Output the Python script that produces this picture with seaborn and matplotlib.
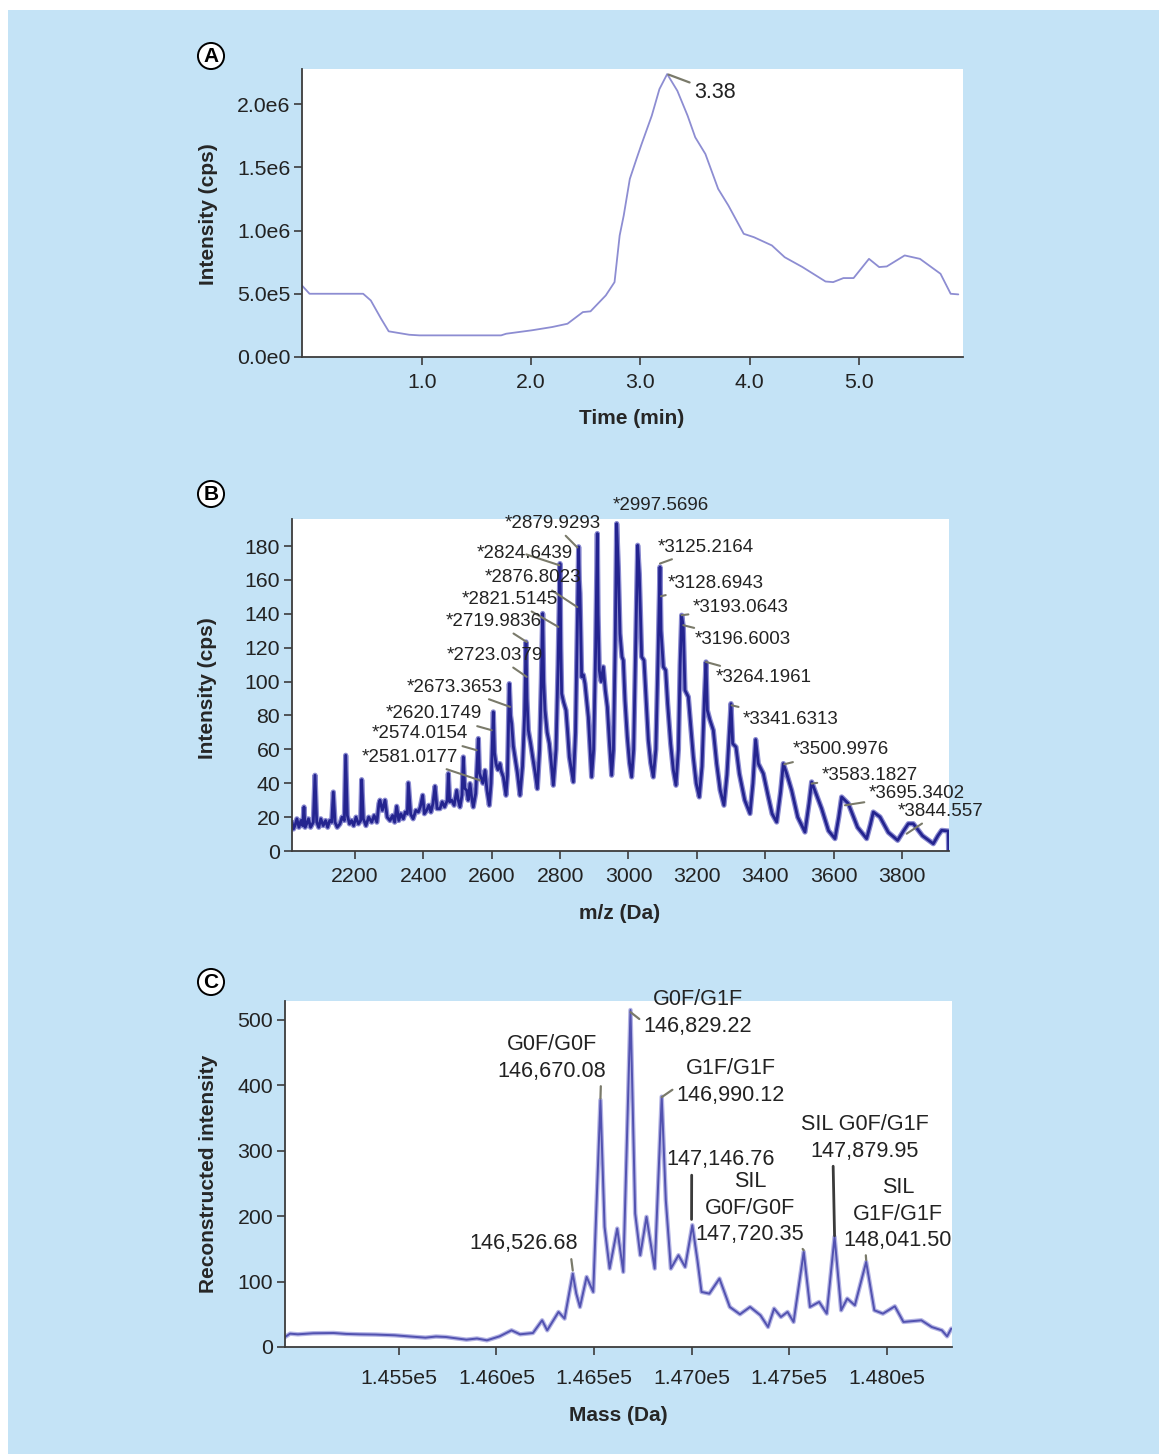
import matplotlib
matplotlib.use("Agg")
import matplotlib.pyplot as plt
import numpy as np
import pandas as pd
import seaborn as sns
from matplotlib.patches import Rectangle

# ---------------- Panel A: chromatogram ----------------
a_time = [-0.099, -0.029, 0.462, 0.532, 0.626, 0.696, 0.883, 0.977, 1.725, 1.772,
          2.006, 2.193, 2.333, 2.474, 2.544, 2.684, 2.764, 2.811, 2.848, 2.904,
          2.965, 3.012, 3.105, 3.175, 3.246, 3.339, 3.433, 3.503, 3.596, 3.713,
          3.807, 3.947, 4.041, 4.205, 4.322, 4.485, 4.696, 4.766, 4.860, 4.953,
          5.094, 5.187, 5.257, 5.421, 5.561, 5.749, 5.842, 5.912]
a_intensity = [0.566, 0.50, 0.50, 0.447, 0.303, 0.203, 0.176, 0.171, 0.171, 0.184,
               0.211, 0.237, 0.263, 0.355, 0.361, 0.487, 0.592, 0.961, 1.118, 1.408,
               1.566, 1.684, 1.908, 2.118, 2.237, 2.105, 1.908, 1.737, 1.605, 1.329,
               1.197, 0.974, 0.947, 0.882, 0.789, 0.711, 0.597, 0.592, 0.624, 0.624,
               0.776, 0.711, 0.716, 0.803, 0.776, 0.658, 0.500, 0.495]
a_intensity = [v * 1e6 for v in a_intensity]
a_xticks = [1.0, 2.0, 3.0, 4.0, 5.0]
a_xticklabels = ["1.0", "2.0", "3.0", "4.0", "5.0"]
a_yticks = [0, 5e5, 1e6, 1.5e6, 2e6]
a_yticklabels = ["0.0e0", "5.0e5", "1.0e6", "1.5e6", "2.0e6"]
a_peak_label = "3.38"
a_peak_time = 3.246
a_peak_int = 2.237e6

# ---------------- Panel B: m/z spectrum ----------------
b_mz = [2016, 2020, 2024.5, 2030, 2036, 2042, 2047, 2050.8, 2054, 2058.6, 2064, 2070,
        2078, 2083, 2088, 2094, 2100, 2107, 2114, 2120, 2126, 2131.8, 2136.6, 2141.5,
        2148, 2156, 2162, 2168.8, 2172.7, 2177.6, 2184, 2190, 2196, 2203, 2210, 2216.6,
        2219.5, 2224.4, 2232, 2240, 2248.8, 2256, 2264, 2270, 2273, 2280, 2287.8, 2294,
        2302.4, 2310, 2316, 2321.9, 2328, 2334, 2341.4, 2347, 2353.1, 2356, 2362.8, 2370,
        2378, 2385.3, 2391, 2397.9, 2403, 2409.6, 2416, 2422, 2428, 2434, 2440, 2448.6,
        2455, 2462, 2470, 2473, 2477, 2482.7, 2490, 2497.4, 2502, 2507, 2513, 2516.9,
        2521, 2526.6, 2531, 2536.4, 2541, 2546, 2553, 2560.8, 2564, 2567.6, 2574, 2580.3,
        2586, 2592.9, 2598, 2604.6, 2608, 2612.4, 2618, 2624.1, 2628, 2633.9, 2641.7, 2646,
        2651.4, 2655, 2658.3, 2663, 2668, 2675, 2682.6, 2690, 2696, 2700.2, 2703, 2707,
        2713.8, 2720, 2726.5, 2733.3, 2740, 2745, 2748.9, 2752, 2755.7, 2762, 2768.4, 2774,
        2780.1, 2788, 2794, 2799.6, 2802, 2804.5, 2810, 2817.2, 2822, 2826.9, 2838.6, 2845,
        2850, 2854.2, 2856, 2858.1, 2863, 2868, 2872.7, 2882.5, 2892.2, 2898, 2904, 2908.8,
        2911, 2914.6, 2920, 2926.3, 2932, 2938.1, 2944, 2950.7, 2956, 2961, 2965.4, 2970.2,
        2975.1, 2980.9, 2984.8, 2989.7, 2996.5, 3003, 3009.2, 3015, 3021, 3026.8, 3031.6,
        3038.5, 3045.3, 3051.1, 3058, 3065, 3072.6, 3080, 3087, 3092.1, 3095, 3101.9,
        3108.7, 3114.5, 3123.3, 3131, 3138.9, 3146, 3151, 3155.5, 3160.3, 3165.2, 3175,
        3179.9, 3189.6, 3198, 3207.1, 3215, 3222, 3226.7, 3230.6, 3238.4, 3248.1, 3257.9,
        3268, 3279.3, 3288, 3295, 3299.8, 3304.7, 3314.4, 3324.2, 3340, 3355.4, 3364,
        3371.9, 3379.7, 3394.4, 3409, 3420, 3433.4, 3445, 3452.9, 3462.6, 3477.2, 3495,
        3516.2, 3528, 3535.7, 3550.4, 3565, 3585, 3604, 3615, 3623.5, 3643, 3670, 3696.6,
        3708, 3716.1, 3735.6, 3760, 3787.3, 3805, 3818.5, 3833.1, 3860, 3891.6, 3905, 3916,
        3935.5, 3936.5]
b_int = [17, 13, 15, 19, 14, 18, 15, 26, 14, 16, 19, 14,
         17, 44.7, 17, 14, 19, 15, 18, 14, 18, 17, 34.8, 17,
         14, 16, 20, 18, 56.5, 21, 16, 18, 15, 20, 16, 18,
         42.1, 19, 15, 20, 17, 21, 17, 28, 30, 24, 30, 20,
         18, 21, 17, 26.4, 18, 22, 19, 23, 22, 40.2, 21.7, 19,
         24, 23, 26, 32.9, 22, 24, 27, 23, 28, 38.2, 25, 25,
         29, 26, 30, 45.7, 29, 30, 27, 35.8, 30, 26, 33, 55.5,
         37, 35.8, 30, 39.8, 32, 26, 34, 66.4, 46, 43.7, 40, 47.6,
         36, 27, 40, 82.1, 58, 51.6, 48, 51.6, 47, 43.7, 32.9, 45,
         98.8, 80, 75.2, 62, 55.5, 46, 32.9, 50, 80, 123.4, 90, 71.3,
         63.4, 55, 46.7, 36.8, 60, 100, 140.2, 100, 83.1, 70, 63.4, 52,
         38.8, 60, 110, 169.7, 120, 92.9, 88, 83.1, 70, 55.5, 40.8, 70,
         130, 179.6, 160, 152, 102.8, 104, 98.8, 79.1, 43.7, 60, 120, 187.4,
         140, 106.7, 100, 108.7, 95, 85.1, 65, 44.7, 60, 120, 193.3, 167.7,
         128.4, 114.6, 112.6, 89, 67.3, 52, 43.7, 60, 120, 180.5, 163.8,
         114.6, 112.6, 91, 65.4, 52, 43.7, 60, 120, 167.7, 130.3, 108.7,
         106.7, 87, 63.4, 48, 38.8, 60, 110, 139.2, 132.3, 94.9, 91,
         79.1, 55.5, 40, 31.9, 50, 90, 111.6, 83.1, 77.2, 71.3, 51.6,
         36, 27, 45, 70, 87, 63.4, 61.4, 45.7, 30, 22.1, 40,
         65.8, 51.6, 45.7, 31.9, 22, 17.1, 35, 51.6, 45.7, 35.8, 20,
         11.2, 28, 40.8, 32.9, 25, 12, 7.3, 20, 31.9, 28, 14, 7.3,
         16, 23, 20.1, 11, 6.3, 12, 16.1, 16.1, 9, 4.3, 9, 12.2,
         11.8, 0]
b_xticks = [2200, 2400, 2600, 2800, 3000, 3200, 3400, 3600, 3800]
b_yticks = [0, 20, 40, 60, 80, 100, 120, 140, 160, 180]
b_labels = ["*2997.5696", "*2879.9293", "*2824.6439", "*2876.8023", "*2821.5145",
            "*2719.9836", "*2723.0379", "*2673.3653", "*2620.1749", "*2574.0154",
            "*2581.0177", "*3125.2164", "*3128.6943", "*3193.0643", "*3196.6003",
            "*3264.1961", "*3341.6313", "*3500.9976", "*3583.1827", "*3695.3402",
            "*3844.557"]
b_label_mz = [2965.4, 2850.3, 2797.7, 2850.3, 2794.8, 2702.2, 2702.2, 2653.4, 2599.8,
              2555.9, 2565.6, 3092.1, 3095.0, 3155.5, 3160.3, 3226.7, 3301.7, 3455.8,
              3535.7, 3633.2, 3813.6]
b_label_int = [193.3, 179.2, 168.7, 144.0, 132.3, 123.4, 102.8, 85.1, 71.3, 59.5, 41.7,
               169.7, 150.4, 139.2, 133.3, 111.6, 86.0, 51.2, 39.8, 27.0, 10.2]

# ---------------- Panel C: deconvoluted mass ----------------
c_mass = [144916, 144942, 144982, 145060, 145165, 145230, 145296, 145380, 145479, 145560,
          145636, 145690, 145741, 145800, 145846, 145900, 145951, 146016, 146077, 146121,
          146187, 146234, 146260, 146318, 146349, 146391, 146409, 146428, 146462, 146496,
          146533, 146554, 146580, 146619, 146650, 146687, 146711, 146737, 146769, 146811,
          146847, 146868, 146894, 146933, 146967, 147004, 147030, 147051, 147091, 147143,
          147196, 147248, 147300, 147353, 147392, 147423, 147458, 147492, 147523, 147575,
          147607, 147654, 147693, 147733, 147767, 147798, 147837, 147895, 147937, 147981,
          148042, 148086, 148178, 148231, 148283, 148310, 148331]
c_int = [15.3, 20.4, 19.4, 21, 21.4, 20, 19.4, 19, 17.9, 16,
         14.3, 16, 15.3, 13, 11.2, 13, 10.2, 16.3, 25.5, 19.4,
         21.4, 40.8, 25.5, 53.6, 43.4, 112.2, 81.6, 61.2, 107.1, 84.2,
         377.6, 183.7, 119.9, 181.1, 114.8, 515.3, 204.1, 140.3, 199, 119.9,
         382.7, 224.5, 119.9, 140.3, 122.4, 186.2, 132.7, 84.2, 81.6, 104.6,
         61.2, 50, 61.2, 48.5, 30.6, 58.7, 45.9, 53.6, 38.3, 145.4,
         61.2, 68.9, 51, 168.4, 56.1, 74, 63.8, 130.1, 56.1, 51,
         62.2, 38.3, 40.8, 30.6, 25.5, 16.3, 28.1]
c_xticks = [145500, 146000, 146500, 147000, 147500, 148000]
c_xticklabels = ["1.455e5", "1.460e5", "1.465e5", "1.470e5", "1.475e5", "1.480e5"]
c_yticks = [0, 100, 200, 300, 400, 500]
c_labels = ["G0F/G1F\n146,829.22", "G0F/G0F\n146,670.08", "G1F/G1F\n146,990.12",
            "147,146.76", "SIL\nG0F/G0F\n147,720.35", "SIL G0F/G1F\n147,879.95",
            "SIL\nG1F/G1F\n148,041.50", "146,526.68"]
c_label_mass = [146687, 146533, 146847, 147000, 147575, 147733, 147895, 146391]
c_label_int = [512, 380, 382, 195, 148, 170, 133, 117]

# ---------------- figure ----------------
sns.set_theme(style="ticks")
plt.rcParams["font.family"] = ["Liberation Sans", "DejaVu Sans"]

W, H = 1159, 1454
fig = plt.figure(figsize=(W / 100, H / 100), dpi=100, facecolor="white")
bg = Rectangle((8 / W, 0), 1, 1 - 10 / H, transform=fig.transFigure,
               facecolor="#C4E3F6", edgecolor="none", zorder=-10)
fig.patches.append(bg)

def px_axes(l, t, r, b):
    ax = fig.add_axes([l / W, 1 - b / H, (r - l) / W, (b - t) / H])
    ax.set_zorder(2)
    return ax

axA = px_axes(302, 69, 963, 357)
axB = px_axes(292, 519, 949, 851)
axC = px_axes(285, 1001, 952, 1347)

spine_col = "#3c3c3c"
tick_fs = 15.3
lab_fs = 15

def style(ax, xpad=5):
    ax.set_facecolor("white")
    for s in ["top", "right"]:
        ax.spines[s].set_visible(False)
    for s in ["left", "bottom"]:
        ax.spines[s].set_color(spine_col)
        ax.spines[s].set_linewidth(1.3)
    ax.tick_params(axis="both", direction="out", length=6, width=1.2, color=spine_col,
                   labelsize=tick_fs, labelcolor="#222222")
    ax.tick_params(axis="x", pad=xpad)
    ax.tick_params(axis="y", pad=2.5)

def fpx(x, y):
    return (x, H - y)

# Panel A
dfA = pd.DataFrame({"time": a_time, "intensity": a_intensity})
sns.lineplot(data=dfA, x="time", y="intensity", ax=axA, sort=False, estimator=None,
             color="#8d8dd2", linewidth=1.3)
axA.set_xlim(-0.098, 5.955)
axA.set_ylim(0, 2.277e6)
axA.set_xticks(a_xticks, a_xticklabels)
axA.set_yticks(a_yticks, a_yticklabels)
style(axA, 5.5)
axA.set_xlabel("Time (min)", fontsize=lab_fs, fontweight="bold", va="center")
axA.set_ylabel("Intensity (cps)", fontsize=lab_fs, fontweight="bold", va="center")
axA.xaxis.set_label_coords(0.499, -0.212)
axA.yaxis.set_label_coords(-0.142, 0.497)
axA.annotate(a_peak_label, xy=(a_peak_time, a_peak_int), xycoords="data",
             xytext=fpx(715, 92), textcoords="figure pixels", ha="center", va="center",
             fontsize=15.5, color="#222222", annotation_clip=False,
             arrowprops=dict(arrowstyle="-", color="#7a7a6a", lw=1.6, shrinkA=1, shrinkB=1))

# Panel B
dfB = pd.DataFrame({"mz": b_mz, "intensity": b_int})
sns.lineplot(data=dfB, x="mz", y="intensity", ax=axB, sort=False, estimator=None,
             color="#8a8ad0", linewidth=3.8)
sns.lineplot(data=dfB, x="mz", y="intensity", ax=axB, sort=False, estimator=None,
             color="#24248f", linewidth=2.0)
axB.set_xlim(2015.7, 3937.5)
axB.set_ylim(0, 196)
axB.set_xticks(b_xticks, [str(v) for v in b_xticks])
axB.set_yticks(b_yticks, [str(v) for v in b_yticks])
style(axB, 5.5)
axB.set_xlabel("m/z (Da)", fontsize=lab_fs, fontweight="bold", va="center")
axB.set_ylabel("Intensity (cps)", fontsize=lab_fs, fontweight="bold", va="center")
axB.xaxis.set_label_coords(0.499, -0.187)
axB.yaxis.set_label_coords(-0.128, 0.49)

b_text_px = [(661, 505), (553, 523), (525, 554), (533, 578), (510, 599), (494, 621),
             (495, 655), (455, 687), (434, 714), (420, 734), (410, 757), (706, 547),
             (716, 583), (741, 608), (743, 640), (764, 678), (791, 719), (841, 750),
             (870, 776), (917, 794), (941, 811)]
for i, (txt, mx, my) in enumerate(zip(b_labels, b_label_mz, b_label_int)):
    tx, ty = b_text_px[i]
    arrow = None if i == 0 else dict(arrowstyle="-", color="#7a7a6a", lw=1.5,
                                    shrinkA=1, shrinkB=0)
    axB.annotate(txt, xy=(mx, my), xycoords="data", xytext=fpx(tx, ty),
                 textcoords="figure pixels", ha="center", va="center", fontsize=13.5,
                 color="#222222", annotation_clip=False, arrowprops=arrow)

# Panel C
dfC = pd.DataFrame({"mass": c_mass, "intensity": c_int})
sns.lineplot(data=dfC, x="mass", y="intensity", ax=axC, sort=False, estimator=None,
             color="#b4b4e4", linewidth=3.2)
sns.lineplot(data=dfC, x="mass", y="intensity", ax=axC, sort=False, estimator=None,
             color="#5252b0", linewidth=1.4)
axC.set_xlim(144916, 148335)
axC.set_ylim(0, 529)
axC.set_xticks(c_xticks, c_xticklabels)
axC.set_yticks(c_yticks, [str(v) for v in c_yticks])
style(axC, 9.5)
axC.set_xlabel("Mass (Da)", fontsize=lab_fs, fontweight="bold", va="center")
axC.set_ylabel("Reconstructed intensity", fontsize=lab_fs, fontweight="bold", va="center")
axC.xaxis.set_label_coords(0.499, -0.197)
axC.yaxis.set_label_coords(-0.1154, 0.5)

c_text_px = [(698, 1013), (552, 1058), (731, 1082), (721, 1160), (750, 1208),
             (865, 1138), (898, 1214), (524, 1244)]
c_relpos = [(0.0, 0.3), (0.95, 0.0), (0.0, 0.4), (0.23, 0.0), (0.95, 0.0),
            (0.25, 0.0), (0.2, 0.0), (0.93, 0.0)]
c_dark = [False, False, False, True, False, True, False, False]
for i, (txt, mx, my) in enumerate(zip(c_labels, c_label_mass, c_label_int)):
    tx, ty = c_text_px[i]
    col = "#3a3a3a" if c_dark[i] else "#7a7a6a"
    axC.annotate(txt, xy=(mx, my), xycoords="data", xytext=fpx(tx, ty),
                 textcoords="figure pixels", ha="center", va="center", fontsize=15.6,
                 color="#222222", multialignment="center", linespacing=1.32,
                 annotation_clip=False,
                 arrowprops=dict(arrowstyle="-", color=col, lw=2.0 if c_dark[i] else 1.6,
                                 relpos=c_relpos[i], shrinkA=1, shrinkB=0))

# Circled panel letters
for letter, (x, y) in zip(["A", "B", "C"], [(211, 56), (211, 494), (211, 982)]):
    fig.text(x / W, 1 - y / H, letter, ha="center", va="center", fontsize=15,
             fontweight="bold", color="black", zorder=5,
             bbox=dict(boxstyle="circle,pad=0.17", fc="white", ec="black", lw=1.4))

fig.savefig("out.png", dpi=100, facecolor=fig.get_facecolor())
